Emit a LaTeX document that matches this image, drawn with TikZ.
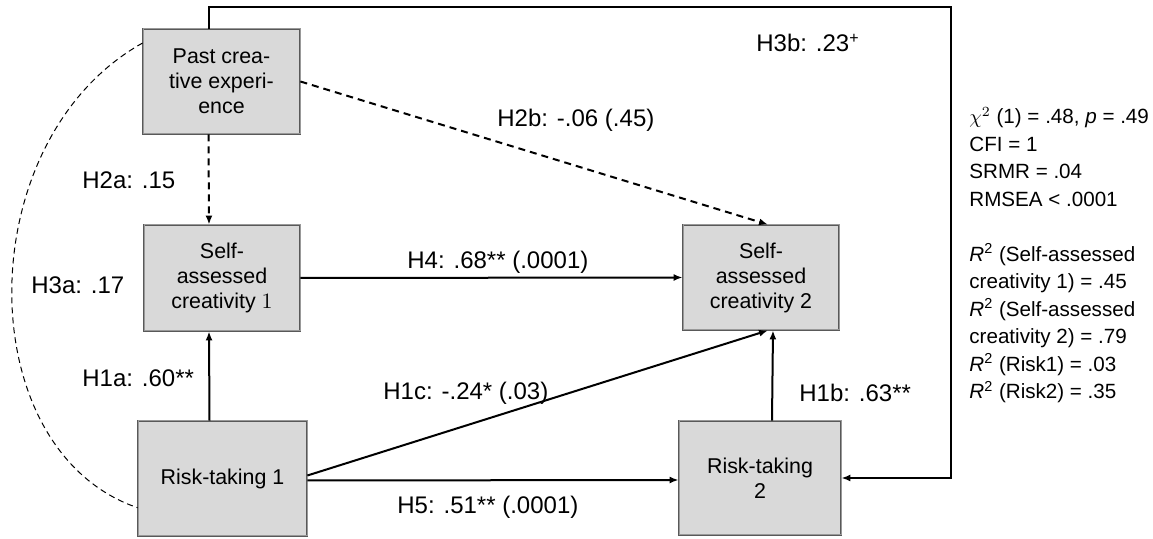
\documentclass[tikz,border=0pt]{standalone}
\usepackage{fontspec}
\setmainfont{Liberation Sans}
\usetikzlibrary{arrows.meta}

\tikzset{
  varbox/.style={draw=black!65, line width=0.4pt, double=black!40, double distance=0.5pt,
    fill=black!15, align=center, inner sep=0pt, font=\fontsize{10.7}{12.5}\selectfont},
  lbl/.style={font=\fontsize{12}{14}\selectfont, inner sep=0pt, anchor=west},
  path/.style={line width=1pt, -{Latex[length=4.5pt,width=3.5pt]}},
  dashpath/.style={path, dash pattern=on 3.5pt off 2.5pt},
}

\begin{document}
\begin{tikzpicture}[x=0.5pt, y=-0.5pt]
    \useasboundingbox (0, 0) rectangle (1153, 539);

    \node[varbox, minimum width=78.5pt, minimum height=52.5pt] (past) at (221.5, 81.5) {Past crea-\\tive experi-\\ence};
    \node[varbox, minimum width=78pt, minimum height=53pt] (sac1) at (222, 278) {Self-\\assessed\\creativity $1$};
    \node[varbox, minimum width=84.5pt, minimum height=57.5pt] (risk1) at (222.5, 478.5) {Risk-taking 1};
    \node[varbox, minimum width=78pt, minimum height=52.5pt] (sac2) at (761, 277.5) {Self-\\assessed\\creativity 2};
    \node[varbox, minimum width=81pt, minimum height=57pt] (risk2) at (760, 478) {Risk-taking\\2};

    \coordinate (corner) at (951, 7);

    \draw[dashpath] ([xshift=-6.5pt]past.south) -- ([xshift=-6.5pt]sac1.north);
    \draw[dashpath] (past.east) -- ([xshift=3.5pt]sac2.north);
    \draw[path] (sac1.east) -- (sac2.west);
    \draw[path] ([xshift=-6.5pt]risk1.north) -- ([xshift=-6.5pt]sac1.south);
    \draw[path] ([yshift=1.5pt]risk1.east) -- ([xshift=3.5pt]sac2.south);
    \draw[path] ([yshift=-1pt]risk1.east) -- ([yshift=-1pt]risk2.west);
    \draw[path] ([xshift=6pt]risk2.north) -- ([xshift=6pt]sac2.south);
    \draw[path] ([xshift=-6.5pt]past.north) |- (corner) |- (risk2.east);
    \draw[dash pattern=on 3pt off 2pt, line width=0.5pt] (past.154) .. controls (-31, 140) and (-31, 450) .. (risk1.199);

    \node[lbl] (h2a) at (82, 180) {H2a: .15};
    \node[lbl] (h2b) at (497, 120) {H2b: -.06 (.45)};
    \node[lbl] (h3b) at (756, 43) {H3b: .23\textsuperscript{+}};
    \node[lbl] (h3a) at (31, 285) {H3a: .17};
    \node[lbl] (h4) at (407, 262) {H4: .68** (.0001)};
    \node[lbl] (h1a) at (82, 378) {H1a: .60**};
    \node[lbl] (h1c) at (383, 393) {H1c: -.24* (.03)};
    \node[lbl] (h1b) at (799, 393) {H1b: .63**};
    \node[lbl] (h5) at (397, 507) {H5: .51** (.0001)};

    \node[inner sep=0pt, anchor=north west, align=left, font=\fontsize{10.3}{13.75}\selectfont] (fit) at (969, 107)
      {$\chi^2$ (1) = .48, \textit{p} = .49\\CFI = 1\\SRMR = .04\\RMSEA < .0001\\[13.75pt]
       \textit{R}\textsuperscript{2} (Self-assessed\\creativity 1) = .45\\
       \textit{R}\textsuperscript{2} (Self-assessed\\creativity 2) = .79\\
       \textit{R}\textsuperscript{2} (Risk1) = .03\\
       \textit{R}\textsuperscript{2} (Risk2) = .35};
\end{tikzpicture}
\end{document}
